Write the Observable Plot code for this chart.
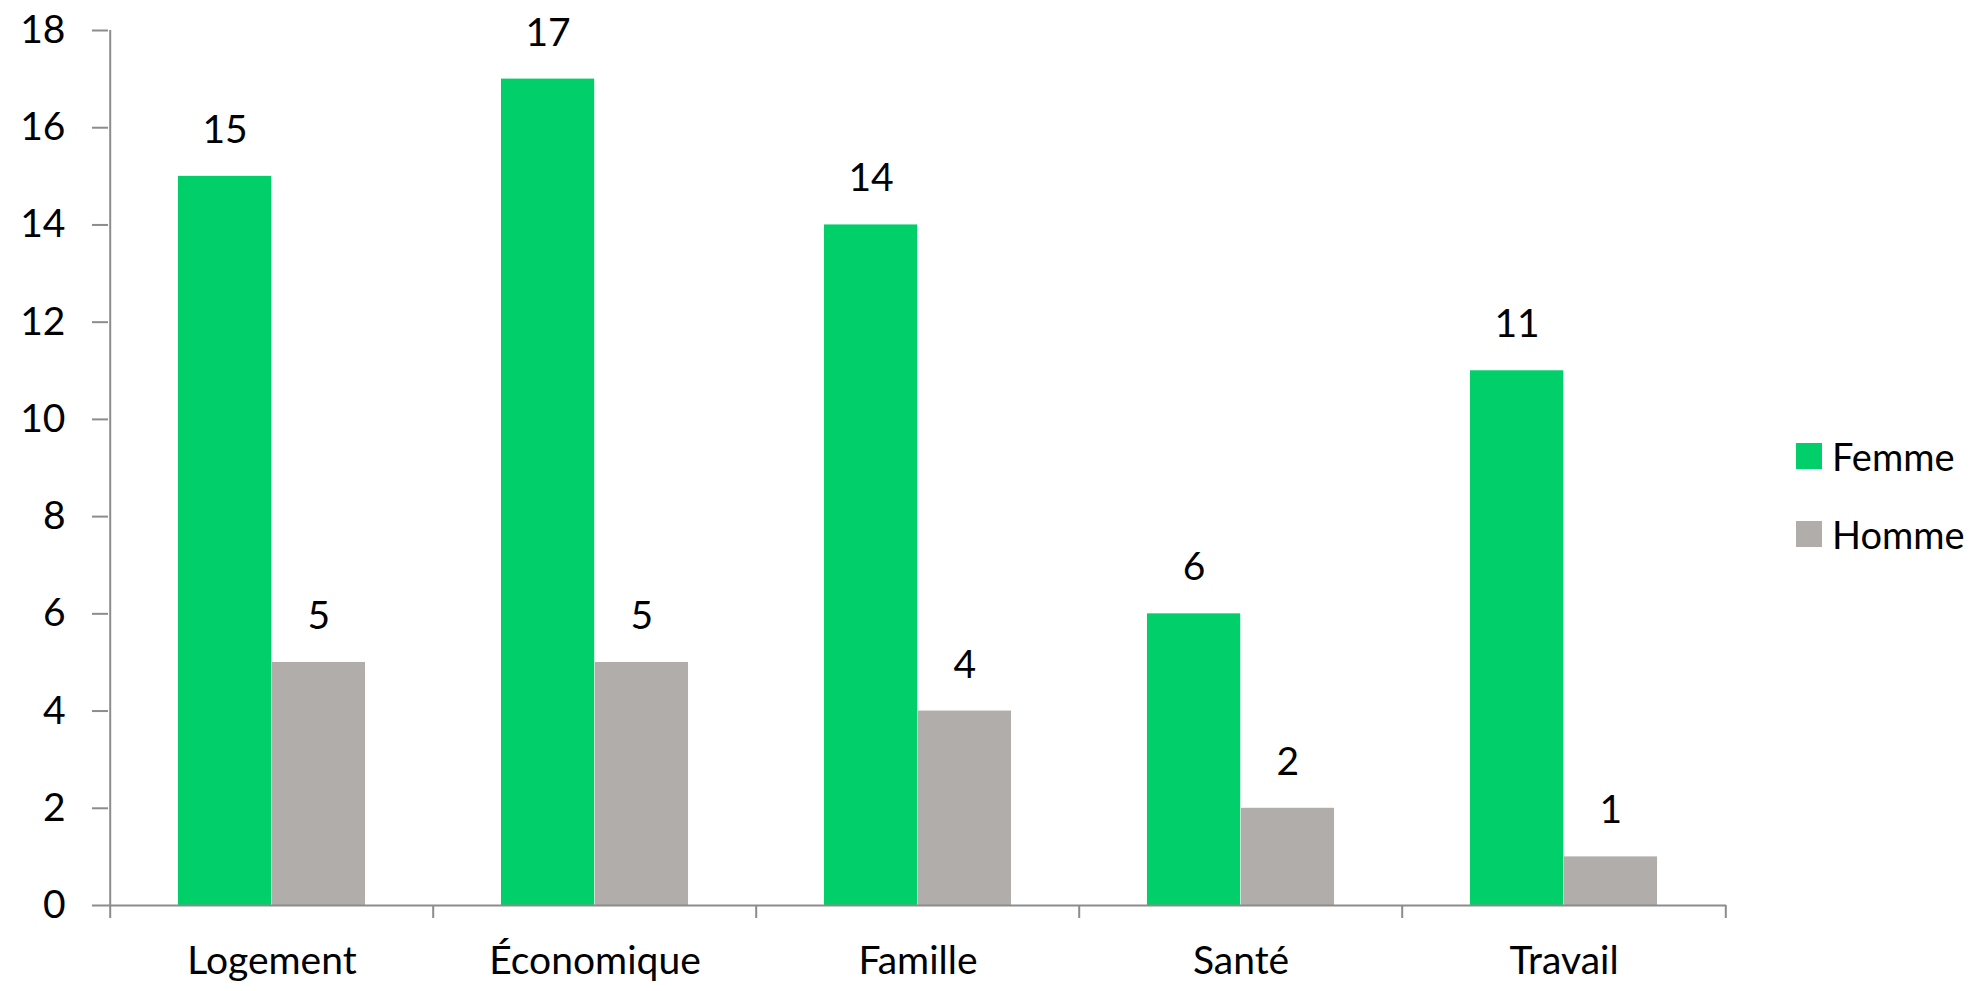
<!DOCTYPE html>
<html>
<head>
<meta charset="utf-8">
<script src="https://cdn.jsdelivr.net/npm/d3@7"></script>
<script src="https://cdn.jsdelivr.net/npm/@observablehq/plot@0.6"></script>
<style>
  html, body { margin: 0; padding: 0; background: #fff; }
  #wrap { position: relative; width: 1977px; height: 991px; font-family: Lato, "Open Sans", sans-serif; }
  #legend { position: absolute; left: 1796px; top: 430px; font-size: 38px; color: #000; }
  .item { display: flex; align-items: center; height: 52px; margin-bottom: 26px; }
  .sw { width: 26px; height: 26px; margin-right: 10px; }
  svg [aria-label="y-axis tick"] path, svg [aria-label="y-axis"] line { stroke: #8c8c8c; stroke-width: 2px; }
</style>
</head>
<body>
<div id="wrap"></div>
<script>
const categories = ["Logement", "Économique", "Famille", "Santé", "Travail"];
const femme = [15, 17, 14, 6, 11];
const homme = [5, 5, 4, 2, 1];
const series = ["Femme", "Homme"];
const colors = ["#00cf6a", "#b0adab"];
const yTicks = [0, 2, 4, 6, 8, 10, 12, 14, 16, 18];

const data = categories.map((c, i) => ({cat: c, femme: femme[i], homme: homme[i]}));

const W = 1977, H = 991;
const mL = 108, mR = 251, mT = 30, mB = 86;
const bw = (W - mL - mR) / categories.length;
const barW = bw * 0.29;
const pad = (bw - 2 * barW) / 2;
const axisColor = "#8c8c8c";
const fs = 39;

const plot = Plot.plot({
  width: W,
  height: H,
  marginLeft: mL,
  marginRight: mR,
  marginTop: mT,
  marginBottom: mB,
  style: {fontFamily: "Lato, 'Open Sans', sans-serif", fontSize: fs + "px", color: "#000", background: "#fff"},
  x: {domain: categories, padding: 0, tickSize: 0, tickPadding: 41, label: null},
  y: {domain: [0, 18], ticks: yTicks, tickSize: 16, tickPadding: 27, label: null},
  marks: [
    Plot.barY(data, {x: "cat", y: "femme", fill: colors[0], insetLeft: pad, insetRight: pad + barW}),
    Plot.barY(data, {x: "cat", y: "homme", fill: colors[1], insetLeft: pad + barW, insetRight: pad}),
    Plot.ruleY([0], {stroke: axisColor, strokeWidth: 2}),
    Plot.ruleX([categories[0]], {x: d => d, y1: 0, y2: 18, dx: -bw / 2, stroke: axisColor, strokeWidth: 2}),
    Plot.ruleX(categories, {x: d => d, y1: 0, y2: 0, dx: -bw / 2, insetBottom: -13, stroke: axisColor, strokeWidth: 2}),
    Plot.ruleX([categories[categories.length - 1]], {x: d => d, y1: 0, y2: 0, dx: bw / 2, insetBottom: -13, stroke: axisColor, strokeWidth: 2}),
    Plot.text(data, {x: "cat", y: "femme", text: d => String(d.femme), dx: -barW / 2, dy: -46, fontSize: fs, fill: "#000"}),
    Plot.text(data, {x: "cat", y: "homme", text: d => String(d.homme), dx: barW / 2, dy: -46, fontSize: fs, fill: "#000"})
  ]
});

const wrap = document.getElementById("wrap");
wrap.appendChild(plot);

const legend = document.createElement("div");
legend.id = "legend";
series.forEach((s, i) => {
  const item = document.createElement("div");
  item.className = "item";
  const sw = document.createElement("div");
  sw.className = "sw";
  sw.style.background = colors[i];
  const t = document.createElement("span");
  t.textContent = s;
  item.appendChild(sw);
  item.appendChild(t);
  legend.appendChild(item);
});
wrap.appendChild(legend);
</script>
</body>
</html>
